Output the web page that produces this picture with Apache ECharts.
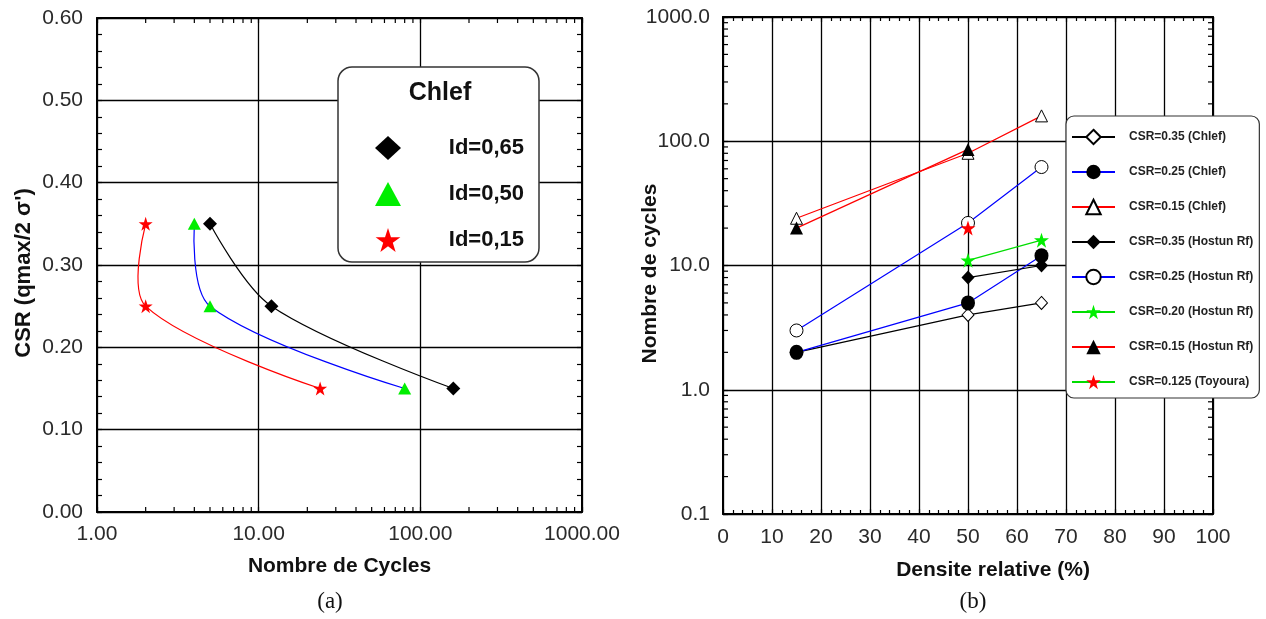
<!DOCTYPE html>
<html>
<head>
<meta charset="utf-8">
<script src="https://cdn.jsdelivr.net/npm/echarts@6/dist/echarts.min.js"></script>
<style>
  html, body { margin: 0; padding: 0; background: #fff; }
  #main { width: 1266px; height: 619px; }
</style>
</head>
<body>
<div id="main"></div>
<script>
// (a) CSR en fonction du nombre de cycles - Chlef
var csrLevels = [0.35, 0.25, 0.15];
var cyclesId65 = [5, 12, 160];
var cyclesId50 = [4, 5, 80];
var cyclesId15 = [2, 2, 24];

// (b) nombre de cycles en fonction de la densite relative
var drChlef = [15, 50, 65];
var nChlef035 = [2, 4, 5];
var nChlef025 = [2, 5, 12];
var nChlef015 = [24, 80, 160];
var drHostunA = [50, 65];
var nHostun035 = [8, 10];
var drHostunB = [15, 50, 65];
var nHostun025 = [3, 22, 62];
var drHostunC = [50, 65];
var nHostun020 = [11, 16];
var drHostunD = [15, 50];
var nHostun015 = [20, 86];
var drToyoura = [50];
var nToyoura0125 = [20];

// graduations secondaires des axes log
var minorTicksA = [2, 3, 4, 5, 6, 7, 8, 9, 20, 30, 40, 50, 60, 70, 80, 90, 200, 300, 400, 500, 600, 700, 800, 900];
var minorTicksB = [0.2, 0.3, 0.4, 0.5, 0.6, 0.7, 0.8, 0.9, 2, 3, 4, 5, 6, 7, 8, 9,
    20, 30, 40, 50, 60, 70, 80, 90, 200, 300, 400, 500, 600, 700, 800, 900];

var FONT = "'Liberation Sans', Arial, sans-serif";
var STAR = 'path://M50,2 L61.8,38.2 L99,38.2 L69,60.5 L80.3,97 L50,74.5 L19.7,97 L31,60.5 L1,38.2 L38.2,38.2 Z';

function zip(xs, ys) {
    return xs.map(function (x, i) { return [x, ys[i]]; });
}

var chart = echarts.init(document.getElementById('main'));

function frameAxis(extra) {
    var base = {
        axisLine: { show: true, onZero: false, lineStyle: { color: '#000', width: 2 } },
        axisTick: { show: true, inside: true, length: 5, lineStyle: { color: '#000', width: 1.2 } },
        splitLine: { show: false },
        axisLabel: { show: false },
        nameMoveOverlap: false
    };
    return Object.assign(base, extra);
}

var labelStyle = { color: '#2a2a2a', fontSize: 21, fontFamily: FONT };
var nameStyle = { color: '#111', fontSize: 21, fontWeight: 'bold', fontFamily: FONT };
var gridLine = { show: true, lineStyle: { color: '#000', width: 1.3 } };

// petites graduations sur les axes log (bas/haut ou gauche/droite)
function xMinorTicks(yLo, yHi) {
    return function (params, api) {
        var v = api.value(0);
        var a = api.coord([v, yLo]);
        var b = api.coord([v, yHi]);
        return { type: 'group', children: [
            { type: 'line', shape: { x1: a[0], y1: a[1], x2: a[0], y2: a[1] - 5 }, style: { stroke: '#000', lineWidth: 1.2 } },
            { type: 'line', shape: { x1: b[0], y1: b[1], x2: b[0], y2: b[1] + 5 }, style: { stroke: '#000', lineWidth: 1.2 } }
        ] };
    };
}
function yMinorTicks(xLo, xHi) {
    return function (params, api) {
        var v = api.value(1);
        var a = api.coord([xLo, v]);
        var b = api.coord([xHi, v]);
        return { type: 'group', children: [
            { type: 'line', shape: { x1: a[0], y1: a[1], x2: a[0] + 5, y2: a[1] }, style: { stroke: '#000', lineWidth: 1.2 } },
            { type: 'line', shape: { x1: b[0], y1: b[1], x2: b[0] - 5, y2: b[1] }, style: { stroke: '#000', lineWidth: 1.2 } }
        ] };
    };
}

// courbe lissee (sans contrainte, comme le logiciel d'origine) passant par les points
function smoothCurve(xs, ys, color) {
    var s = 0.33;
    return {
        type: 'custom', xAxisIndex: 0, yAxisIndex: 0, silent: true, z: 2,
        data: [[xs[0], ys[0]]],
        renderItem: function (params, api) {
            var p = xs.map(function (x, i) { return api.coord([x, ys[i]]); });
            var n = p.length;
            function cp(i, forward) {
                if (i === 0 || i === n - 1) return p[i];
                var vx = p[i + 1][0] - p[i - 1][0], vy = p[i + 1][1] - p[i - 1][1];
                var lp = Math.hypot(p[i][0] - p[i - 1][0], p[i][1] - p[i - 1][1]);
                var ln = Math.hypot(p[i + 1][0] - p[i][0], p[i + 1][1] - p[i][1]);
                var r = ln / (ln + lp);
                var k = forward ? s * r : -s * (1 - r);
                return [p[i][0] + vx * k, p[i][1] + vy * k];
            }
            var parts = [];
            for (var i = 0; i < n - 1; i++) {
                var c1 = cp(i, true), c2 = cp(i + 1, false);
                parts.push({ type: 'bezierCurve',
                    shape: { x1: p[i][0], y1: p[i][1], x2: p[i + 1][0], y2: p[i + 1][1],
                             cpx1: c1[0], cpy1: c1[1], cpx2: c2[0], cpy2: c2[1] },
                    style: { stroke: color, fill: null, lineWidth: 1.2 } });
            }
            return { type: 'group', children: parts };
        }
    };
}

option = {
    animation: false,
    backgroundColor: '#fff',
    grid: [
        { left: 97, top: 18, width: 485, height: 494 },
        { left: 723, top: 17, width: 490, height: 497 }
    ],
    xAxis: [
        frameAxis({
            gridIndex: 0, type: 'log', logBase: 10, min: 1, max: 1000, position: 'bottom',
            splitLine: gridLine,
            axisLabel: Object.assign({ show: true, margin: 12, formatter: function (v) { return v.toFixed(2); } }, labelStyle),
            name: 'Nombre de Cycles', nameLocation: 'middle', nameGap: 44, nameTextStyle: nameStyle
        }),
        frameAxis({ gridIndex: 0, type: 'log', logBase: 10, min: 1, max: 1000, position: 'top' }),
        frameAxis({
            gridIndex: 1, type: 'value', min: 0, max: 100, interval: 10, position: 'bottom',
            splitLine: gridLine,
            minorTick: { show: true, splitNumber: 5, length: 4, lineStyle: { color: '#000', width: 1.2 } },
            axisLabel: Object.assign({ show: true, margin: 13 }, labelStyle),
            name: 'Densite relative (%)', nameLocation: 'middle', nameGap: 46,
            nameTextStyle: Object.assign({ padding: [0, 0, 0, 50] }, nameStyle)
        }),
        frameAxis({
            gridIndex: 1, type: 'value', min: 0, max: 100, interval: 10, position: 'top',
            minorTick: { show: true, splitNumber: 5, length: 4, lineStyle: { color: '#000', width: 1.2 } }
        })
    ],
    yAxis: [
        frameAxis({
            gridIndex: 0, type: 'value', min: 0, max: 0.6, interval: 0.1, position: 'left',
            splitLine: gridLine,
            minorTick: { show: true, splitNumber: 5, length: 5, lineStyle: { color: '#000', width: 1.2 } },
            axisLabel: Object.assign({ show: true, margin: 14, formatter: function (v) { return v.toFixed(2); } }, labelStyle),
            name: "CSR (qmax/2 σ')", nameLocation: 'middle', nameGap: 62,
            nameTextStyle: Object.assign({ padding: [0, 16, 0, 0] }, nameStyle, { fontSize: 22 })
        }),
        frameAxis({
            gridIndex: 0, type: 'value', min: 0, max: 0.6, interval: 0.1, position: 'right',
            minorTick: { show: true, splitNumber: 5, length: 5, lineStyle: { color: '#000', width: 1.2 } }
        }),
        frameAxis({
            gridIndex: 1, type: 'log', logBase: 10, min: 0.1, max: 1000, position: 'left',
            splitLine: gridLine,
            axisLabel: Object.assign({ show: true, margin: 13, formatter: function (v) { return v.toFixed(1); } }, labelStyle),
            name: 'Nombre de cycles', nameLocation: 'middle', nameGap: 62,
            nameTextStyle: Object.assign({ padding: [0, 16, 0, 0] }, nameStyle)
        }),
        frameAxis({ gridIndex: 1, type: 'log', logBase: 10, min: 0.1, max: 1000, position: 'right' })
    ],
    legend: [
        {
            orient: 'vertical', left: 338, top: 67,
            padding: [69, 15, 10, 37],
            backgroundColor: '#fff', borderColor: '#333', borderWidth: 1.5, borderRadius: 14,
            itemWidth: 26, itemHeight: 24, itemGap: 22,
            data: [
                { name: 'Id=0,65', icon: 'diamond' },
                { name: 'Id=0,50', icon: 'triangle' },
                { name: 'Id=0,15', icon: STAR }
            ],
            formatter: function (n) { return '{t|' + n + '}'; },
            textStyle: {
                rich: { t: { width: 118, align: 'right', fontSize: 22, fontWeight: 'bold', color: '#111', fontFamily: FONT } }
            }
        },
        {
            orient: 'vertical', left: 1066, top: 116,
            padding: [12, 6, 7, 5],
            backgroundColor: '#fff', borderColor: '#333', borderWidth: 1.2, borderRadius: 8,
            itemWidth: 43, itemHeight: 18, itemGap: 17,
            data: ['CSR=0.35 (Chlef)', 'CSR=0.25 (Chlef)', 'CSR=0.15 (Chlef)', 'CSR=0.35 (Hostun Rf)',
                'CSR=0.25 (Hostun Rf)', 'CSR=0.20 (Hostun Rf)', 'CSR=0.15 (Hostun Rf)', 'CSR=0.125 (Toyoura)'],
            textStyle: {
                fontSize: 12, fontWeight: 'bold', color: '#222', fontFamily: FONT,
                lineHeight: 18, padding: [0, 0, 0, 9]
            }
        }
    ],
    graphic: [
        { type: 'text', x: 440, y: 93, z: 100, style: { text: 'Chlef', font: 'bold 25px ' + FONT, fill: '#111', textAlign: 'center', textVerticalAlign: 'middle' } },
        { type: 'text', x: 330, y: 602, style: { text: '(a)', font: "23px 'Liberation Serif', serif", fill: '#111', textAlign: 'center', textVerticalAlign: 'middle' } },
        { type: 'text', x: 973, y: 602, style: { text: '(b)', font: "23px 'Liberation Serif', serif", fill: '#111', textAlign: 'center', textVerticalAlign: 'middle' } }
    ],
    series: [
        // (a) courbes
        smoothCurve(cyclesId65, csrLevels, '#000'),
        smoothCurve(cyclesId50, csrLevels, '#0000ff'),
        smoothCurve(cyclesId15, csrLevels, '#ff0000'),
        // (a) points
        { name: 'Id=0,65', type: 'scatter', xAxisIndex: 0, yAxisIndex: 0, z: 3,
          data: zip(cyclesId65, csrLevels), symbol: 'diamond', symbolSize: 14,
          itemStyle: { color: '#000', opacity: 1 } },
        { name: 'Id=0,50', type: 'scatter', xAxisIndex: 0, yAxisIndex: 0, z: 3,
          data: zip(cyclesId50, csrLevels), symbol: 'triangle', symbolSize: [13, 12],
          itemStyle: { color: '#00ee00', opacity: 1 } },
        { name: 'Id=0,15', type: 'scatter', xAxisIndex: 0, yAxisIndex: 0, z: 3,
          data: zip(cyclesId15, csrLevels), symbol: STAR, symbolSize: 14,
          itemStyle: { color: '#ff0000', opacity: 1 } },
        // (b)
        { name: 'CSR=0.35 (Chlef)', type: 'line', xAxisIndex: 2, yAxisIndex: 2,
          data: zip(drChlef, nChlef035), symbol: 'diamond', symbolSize: [12, 13],
          itemStyle: { color: '#fff', borderColor: '#000', borderWidth: 1 }, lineStyle: { color: '#000', width: 1.2 } },
        { name: 'CSR=0.25 (Chlef)', type: 'line', xAxisIndex: 2, yAxisIndex: 2,
          data: zip(drChlef, nChlef025), symbol: 'circle', symbolSize: [14, 15],
          itemStyle: { color: '#000' }, lineStyle: { color: '#0000ff', width: 1.2 } },
        { name: 'CSR=0.15 (Chlef)', type: 'line', xAxisIndex: 2, yAxisIndex: 2,
          data: zip(drChlef, nChlef015), symbol: 'triangle', symbolSize: 12,
          itemStyle: { color: '#fff', borderColor: '#000', borderWidth: 1 }, lineStyle: { color: '#ff0000', width: 1.2 } },
        { name: 'CSR=0.35 (Hostun Rf)', type: 'line', xAxisIndex: 2, yAxisIndex: 2,
          data: zip(drHostunA, nHostun035), symbol: 'diamond', symbolSize: [13, 14],
          itemStyle: { color: '#000' }, lineStyle: { color: '#000', width: 1.2 } },
        { name: 'CSR=0.25 (Hostun Rf)', type: 'line', xAxisIndex: 2, yAxisIndex: 2,
          data: zip(drHostunB, nHostun025), symbol: 'circle', symbolSize: 13,
          itemStyle: { color: '#fff', borderColor: '#000', borderWidth: 1 }, lineStyle: { color: '#0000ff', width: 1.2 } },
        { name: 'CSR=0.20 (Hostun Rf)', type: 'line', xAxisIndex: 2, yAxisIndex: 2,
          data: zip(drHostunC, nHostun020), symbol: STAR, symbolSize: 15,
          itemStyle: { color: '#00ee00' }, lineStyle: { color: '#00dd00', width: 1.2 } },
        { name: 'CSR=0.15 (Hostun Rf)', type: 'line', xAxisIndex: 2, yAxisIndex: 2,
          data: zip(drHostunD, nHostun015), symbol: 'triangle', symbolSize: 13,
          itemStyle: { color: '#000' }, lineStyle: { color: '#ff0000', width: 1.2 } },
        { name: 'CSR=0.125 (Toyoura)', type: 'line', xAxisIndex: 2, yAxisIndex: 2,
          data: zip(drToyoura, nToyoura0125), symbol: STAR, symbolSize: 15,
          itemStyle: { color: '#ff0000' }, lineStyle: { color: '#00dd00', width: 1.2 } },
        // graduations log
        { type: 'custom', xAxisIndex: 0, yAxisIndex: 0, silent: true, z: 3, clip: false,
          data: minorTicksA.map(function (v) { return [v, 0]; }), renderItem: xMinorTicks(0, 0.6) },
        { type: 'custom', xAxisIndex: 2, yAxisIndex: 2, silent: true, z: 3, clip: false,
          data: minorTicksB.map(function (v) { return [0, v]; }), renderItem: yMinorTicks(0, 100) }
    ]
};

chart.setOption(option);
</script>
</body>
</html>
